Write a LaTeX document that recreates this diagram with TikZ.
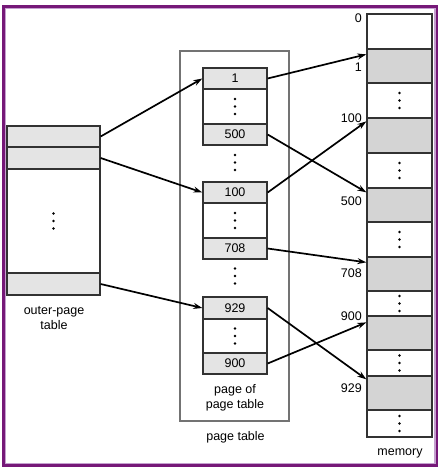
\documentclass[tikz,border=0pt]{standalone}
\usepackage{fontspec}
\setmainfont{Liberation Sans}
\usetikzlibrary{arrows.meta}
\definecolor{framepurple}{RGB}{118,24,120}
\definecolor{framelilac}{RGB}{196,160,206}
\definecolor{entrygray}{RGB}{228,228,228}
\definecolor{memgray}{RGB}{212,212,212}
\definecolor{linegray}{RGB}{50,50,50}
\tikzset{
  cell/.style={draw=linegray,line width=1.3pt,minimum width=#1,inner sep=0pt},
  ptr/.style={-{Stealth[length=9pt,width=6pt]},line width=1.7pt},
  vdots/.pic={\foreach \k in {-7.5,0,7.5} \fill (0,\k) circle (1.3pt);}
}
\begin{document}
\begin{tikzpicture}[x=1pt,y=-1pt,font=\fontsize{12.5}{15}\selectfont]
  \useasboundingbox (0,0) rectangle (444,470);
  \draw[framepurple,line width=2.6pt] (3.5,6.5) rectangle (437,465.5);
  \draw[framelilac,line width=1.2pt] (5.6,8.6) rectangle (434.9,463.4);

  \foreach \t/\b/\f/\n in {126/147/entrygray/o1,147/169/entrygray/o2,169/273/white/od,273/295/entrygray/o3}
    \node[cell=93,fill=\f,minimum height={(\b-\t)*1pt}] (\n) at (53.5,{(\t+\b)/2}) {};
  \pic at (od) {vdots};
  \node[align=center] (olabel) at (54,318) {outer-page\\table};

  \node[draw=gray!90!black,line width=1.1pt,minimum width=109pt,minimum height=370pt] (ptbox) at (234.5,236) {};
  \foreach \t/\b/\f/\n/\s in {68/89/entrygray/p1/1,89/124/white/pd1/{},124/145/entrygray/p500/500,
      182/203/entrygray/p100/100,203/238/white/pd2/{},238/259/entrygray/p708/708,
      297/319/entrygray/p929/929,319/353/white/pd3/{},353/374/entrygray/p900/900}
    \node[cell=64,fill=\f,minimum height={(\b-\t)*1pt}] (\n) at (235,{(\t+\b)/2}) {\s};
  \foreach \n in {pd1,pd2,pd3} \pic at (\n) {vdots};
  \pic at (235,162.5) {vdots};
  \pic at (235,276) {vdots};
  \node[align=center] (pplabel) at (235,398) {page of\\page table};
  \node (ptlabel) at (235.5,437) {page table};

  \foreach \t/\b/\f/\n in {14/49/white/m0,49/83/memgray/m1,83/118/white/md1,118/153/memgray/m100,
      153/188/white/md2,188/222/memgray/m500,222/257/white/md3,257/291/memgray/m708,
      291/316/white/md4,316/350/memgray/m900,350/376/white/md5,376/410/memgray/m929,410/437/white/md6}
    \node[cell=65,fill=\f,minimum height={(\b-\t)*1pt}] (\n) at (399.5,{(\t+\b)/2}) {};
  \foreach \i in {1,...,6} \pic at (md\i) {vdots};
  \foreach \y/\s in {18/0,67/1,118/100,201/500,273/708,316/900,388/929}
    \node[anchor=east,inner sep=0pt] (a\s) at (362,\y) {\s};
  \node (memlabel) at (400,453) {memory};

  \draw[ptr] (o1.east) -- (p1.west);
  \draw[ptr] (o2.east) -- (p100.west);
  \draw[ptr] (o3.east) -- (p929.west);
  \foreach \a/\b/\d in {p1/m1/6,p500/m500/5,p100/m100/4,p708/m708/6,p929/m929/4,p900/m900/7}
    \draw[ptr] (\a.east) -- ([yshift=-\d pt]\b.north west);
\end{tikzpicture}
\end{document}
